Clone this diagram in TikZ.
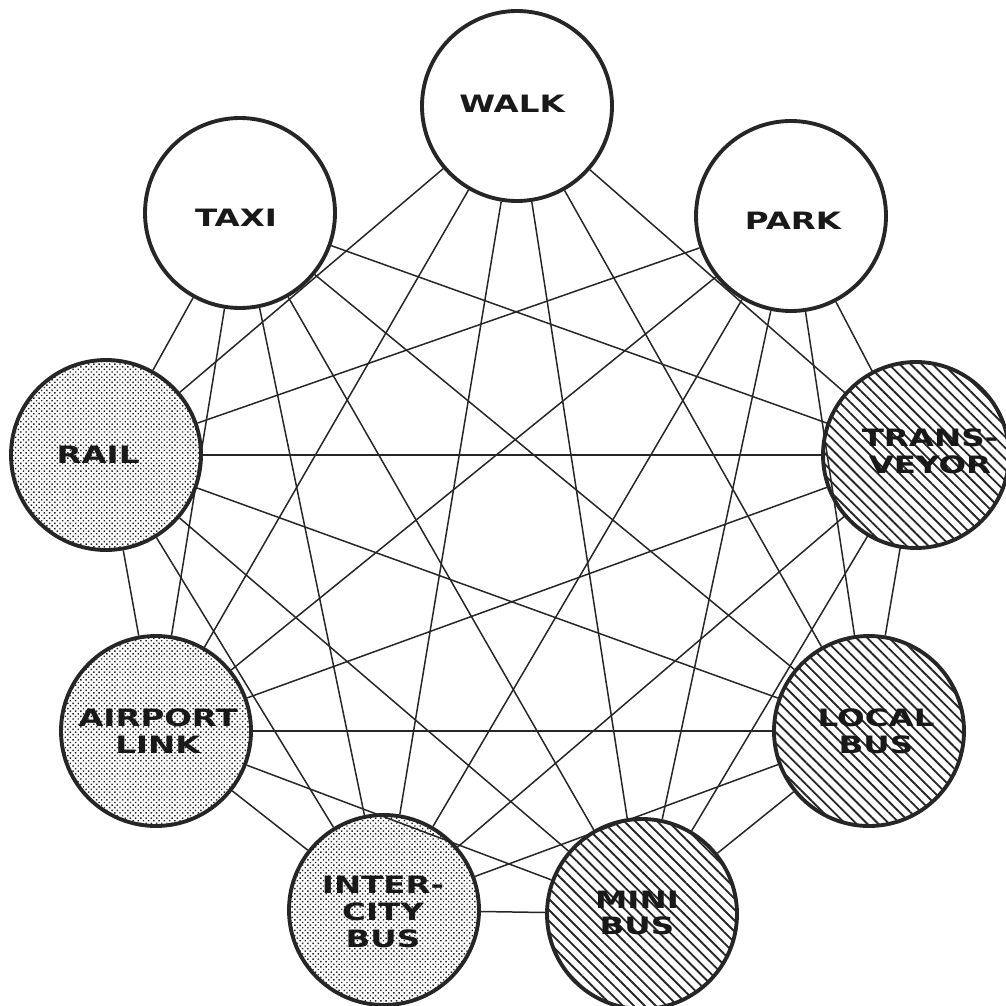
\documentclass[tikz,border=0pt]{standalone}
\usepackage{fontspec}
\newfontfamily\lbl[FakeStretch=1.36]{DejaVu Sans}
\usetikzlibrary{patterns.meta}
\begin{document}
\begin{tikzpicture}[x=0.02cm,y=-0.02cm,
  mode/.style={circle,draw=black!85,line width=2.2pt,minimum size=190*0.02cm,inner sep=0pt},
  openmode/.style={mode,fill=white},
  dotted mode/.style={mode,pattern={Dots[distance=2.1pt,radius=0.58pt,angle=45]},pattern color=black!85},
  hatched mode/.style={mode,pattern={Lines[angle=-45,distance=4.4pt,line width=1.05pt]},pattern color=black!85},
  txt/.style={align=center,inner sep=0pt,font={\lbl\bfseries\fontsize{13.6}{15.2}\selectfont},text=black!90},
  edge/.style={line width=0.85pt,draw=black!85}]
\useasboundingbox (0,0) rectangle (1006,1006);
\node[openmode] (walk) at (517,106) {};
\node[openmode] (taxi) at (240,213) {};
\node[openmode] (park) at (791,216) {};
\node[dotted mode] (rail) at (106,455) {};
\node[hatched mode,minimum size=186*0.02cm] (trans) at (916,455) {};
\node[dotted mode] (air) at (156,731) {};
\node[hatched mode] (local) at (869,731) {};
\node[dotted mode] (inter) at (384,910) {};
\node[hatched mode] (mini) at (642,914) {};
\node[txt] (twalk) at (512,104) {WALK};
\node[txt] (ttaxi) at (236,218) {TAXI};
\node[txt] (tpark) at (793,221) {PARK};
\node[txt] (trail) at (98,455) {RAIL};
\node[txt] (ttrans) at (930,451) {TRANS-\\VEYOR};
\node[txt] (tair) at (158,731) {AIRPORT\\LINK};
\node[txt] (tlocal) at (876,731) {LOCAL\\BUS};
\node[txt] (tinter) at (383,912) {INTER-\\CITY\\BUS};
\node[txt] (tmini) at (637,913) {MINI\\BUS};
\foreach \a in {walk,taxi,park}
  \foreach \b in {rail,trans,air,local,inter,mini}
    \draw[edge] (\a) -- (\b);
\foreach \a/\b in {rail/trans,rail/air,rail/local,rail/inter,rail/mini,
  trans/air,trans/local,trans/inter,trans/mini,
  air/local,air/inter,air/mini,
  local/inter,local/mini,
  inter/mini}
  \draw[edge] (\a) -- (\b);
\end{tikzpicture}
\end{document}
